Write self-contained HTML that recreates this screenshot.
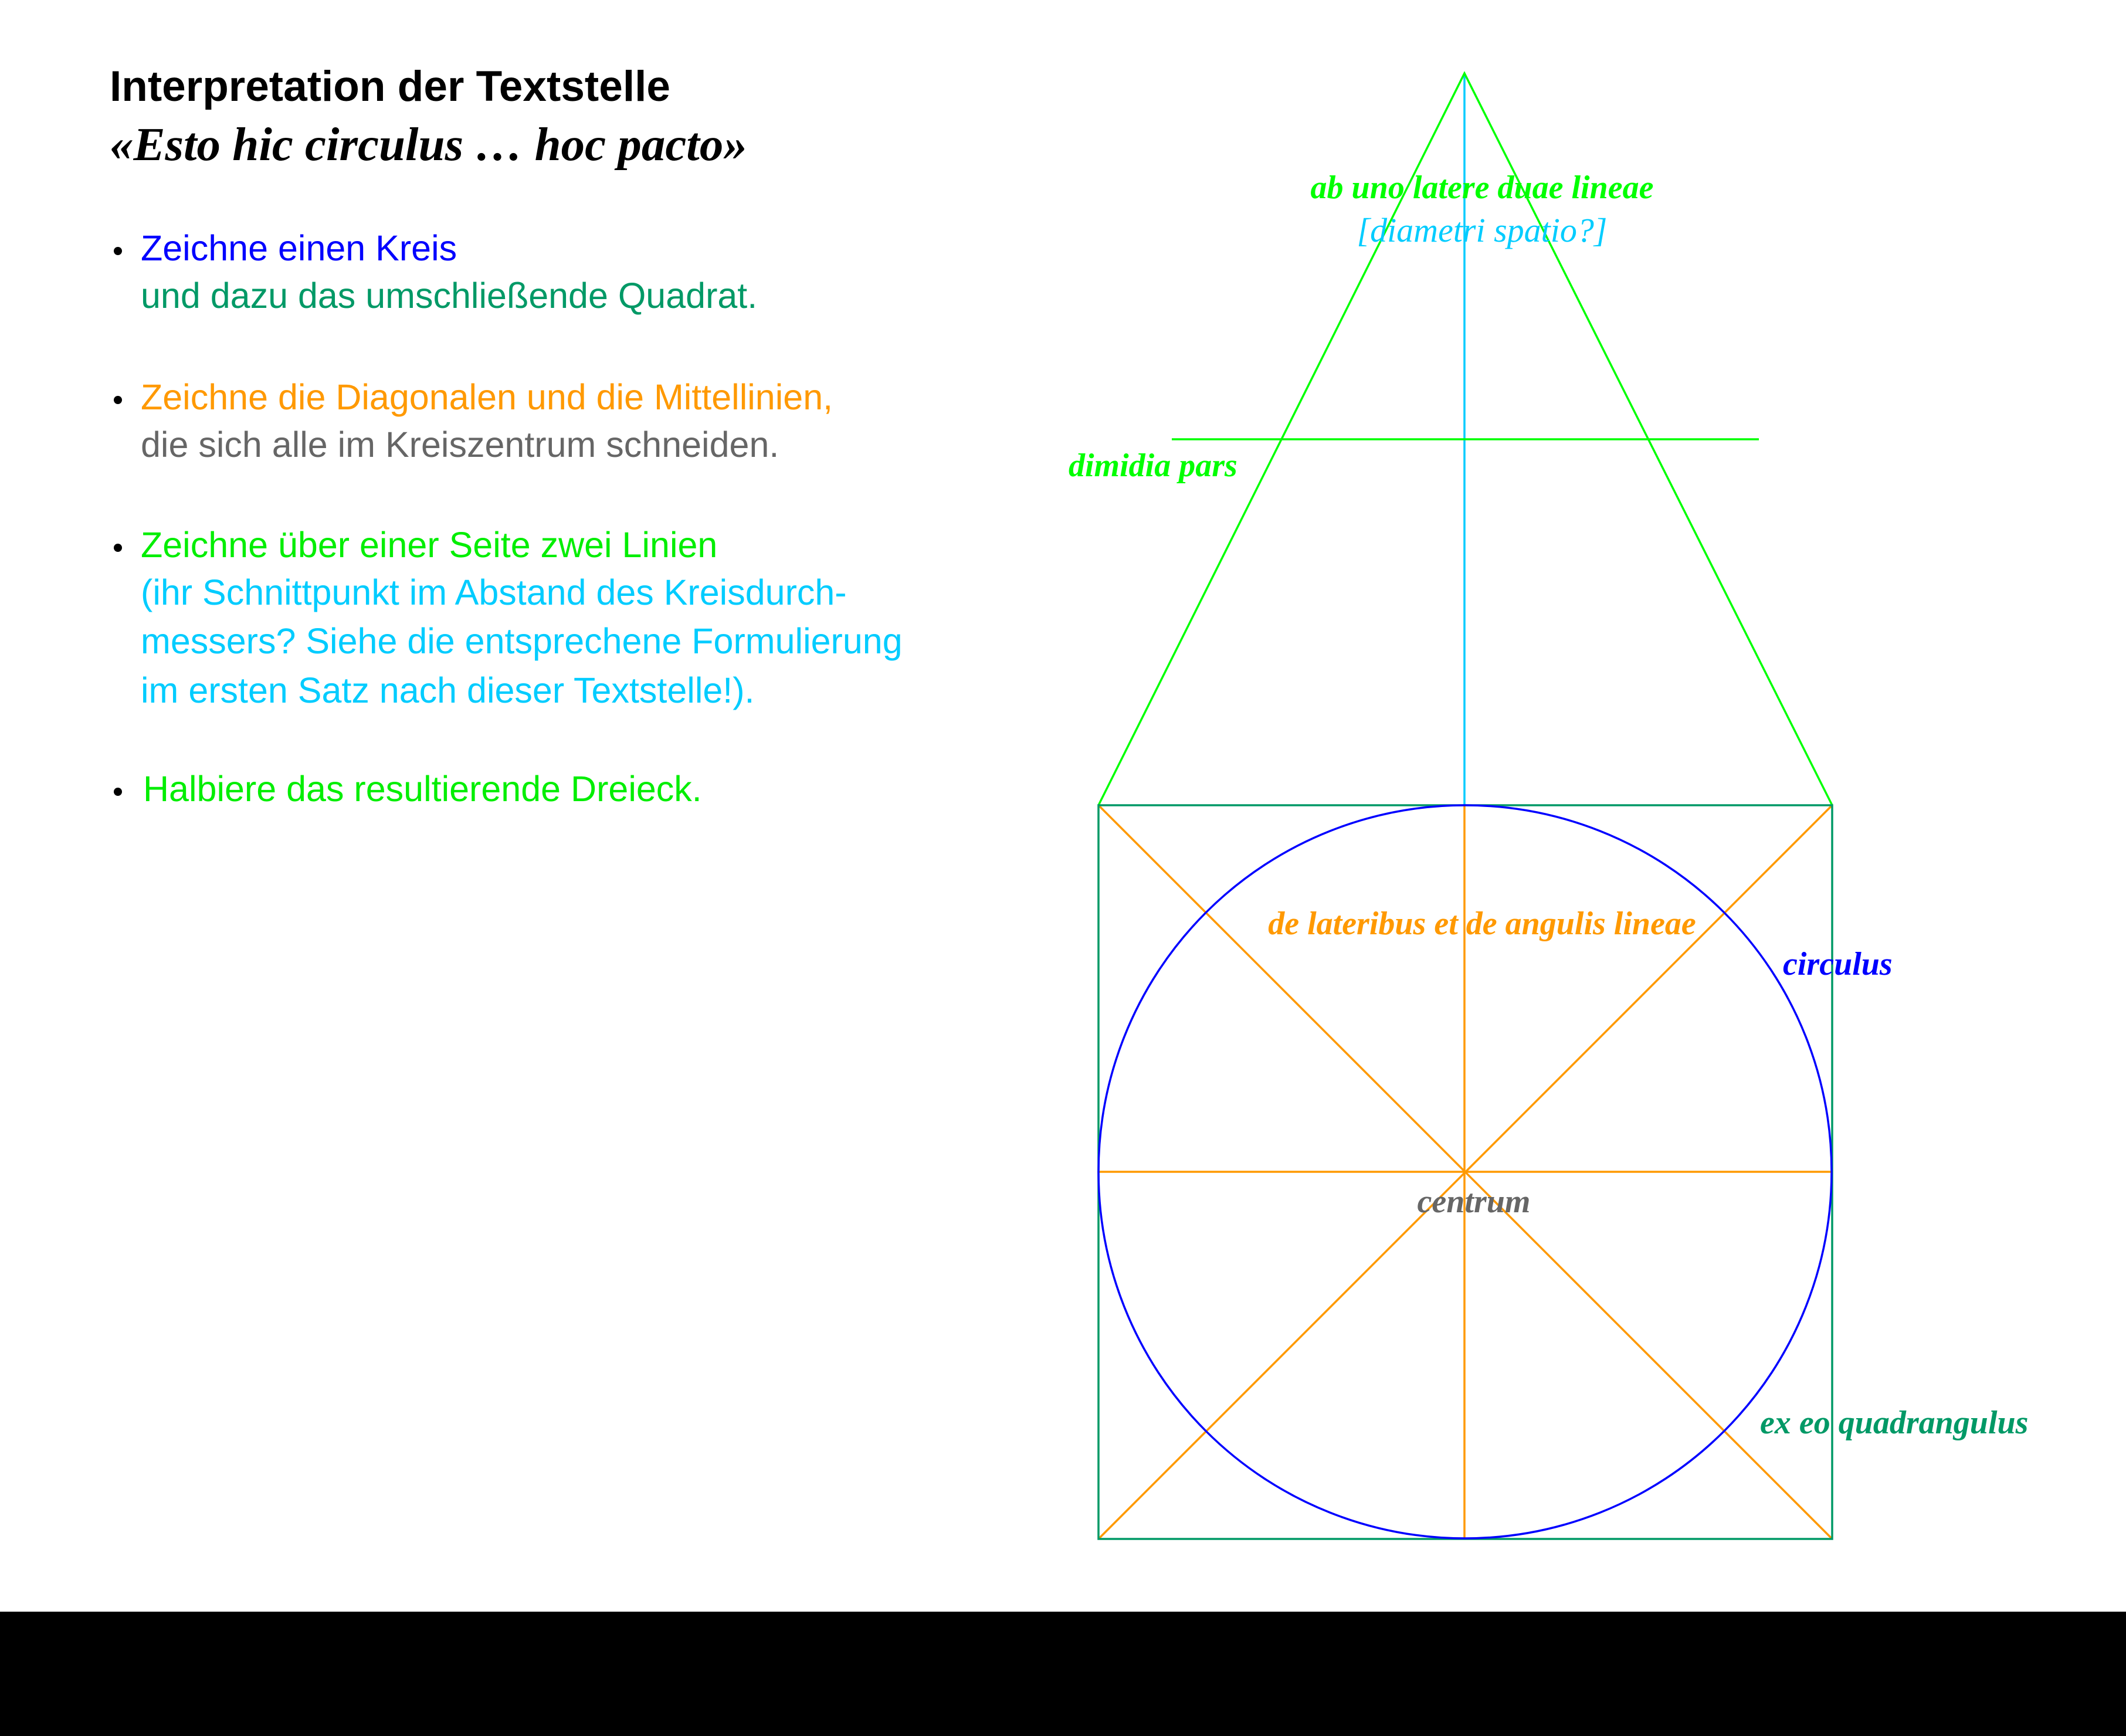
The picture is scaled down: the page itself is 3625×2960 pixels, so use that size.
<!DOCTYPE html>
<html><head><meta charset="utf-8"><style>
body{margin:0;width:3625px;height:2960px;background:#fff;overflow:hidden;position:relative}
svg{position:absolute;left:0;top:0}
</style></head><body>
<svg width="3625" height="2960" viewBox="0 0 3625 2960">
<rect x="0" y="2748" width="3625" height="212" fill="#000"/>
<g font-family="'Liberation Sans',sans-serif" font-size="61">
<text x="187" y="172" font-size="73" font-weight="bold" fill="#000">Interpretation der Textstelle</text>
<text x="187" y="273" font-family="'Liberation Serif',serif" font-style="italic" font-weight="bold" font-size="81" fill="#000">«Esto hic circulus … hoc pacto»</text>
<g fill="#000"><circle cx="201" cy="428" r="7"/><circle cx="201" cy="682" r="7"/><circle cx="201" cy="934" r="7"/><circle cx="201" cy="1350" r="7"/></g>
<text x="240" y="444" fill="#0000ff">Zeichne einen Kreis</text>
<text x="240" y="525" fill="#009966">und dazu das umschließende Quadrat.</text>
<text x="240" y="698" fill="#ff9900">Zeichne die Diagonalen und die Mittellinien,</text>
<text x="240" y="779" fill="#666666">die sich alle im Kreiszentrum schneiden.</text>
<text x="240" y="950" fill="#00ee00">Zeichne über einer Seite zwei Linien</text>
<text x="240" y="1031" fill="#00ccff">(ihr Schnittpunkt im Abstand des Kreisdurch-</text>
<text x="240" y="1114" fill="#00ccff">messers? Siehe die entsprechene Formulierung</text>
<text x="240" y="1198" fill="#00ccff">im ersten Satz nach dieser Textstelle!).</text>
<text x="244" y="1366" fill="#00ee00">Halbiere das resultierende Dreieck.</text>
</g>
<g fill="none" stroke-width="3.5">
<line x1="2497" y1="125" x2="2497" y2="1373" stroke="#00ccff"/>
<polyline points="1873,1373 2497,125 3124,1373" stroke="#00ff00"/>
<line x1="1998" y1="749" x2="2999" y2="749" stroke="#00ff00"/>
<g stroke="#ff9900">
<line x1="1873" y1="1373" x2="3124" y2="2624"/>
<line x1="3124" y1="1373" x2="1873" y2="2624"/>
<line x1="1873" y1="1998" x2="3124" y2="1998"/>
<line x1="2497" y1="1373" x2="2497" y2="2624"/>
</g>
<rect x="1873" y="1373" width="1251" height="1251" stroke="#009966"/>
<circle cx="2498" cy="1998" r="625" stroke="#0000ff"/>
</g>
<g font-family="'Liberation Serif',serif" font-style="italic" font-weight="bold" font-size="56">
<text x="2527" y="338" text-anchor="middle" fill="#00ff00">ab uno latere duae lineae</text>
<text x="2527" y="412" text-anchor="middle" fill="#00ccff" font-weight="normal" font-size="58">[diametri spatio?]</text>
<text x="1822" y="812" fill="#00ff00">dimidia pars</text>
<text x="2527" y="1593" text-anchor="middle" fill="#ff9900">de lateribus et de angulis lineae</text>
<text x="3040" y="1662" fill="#0000ff">circulus</text>
<text x="2513" y="2067" text-anchor="middle" fill="#666666">centrum</text>
<text x="3001" y="2444" fill="#009966">ex eo quadrangulus</text>
</g>
</svg>
</body></html>
